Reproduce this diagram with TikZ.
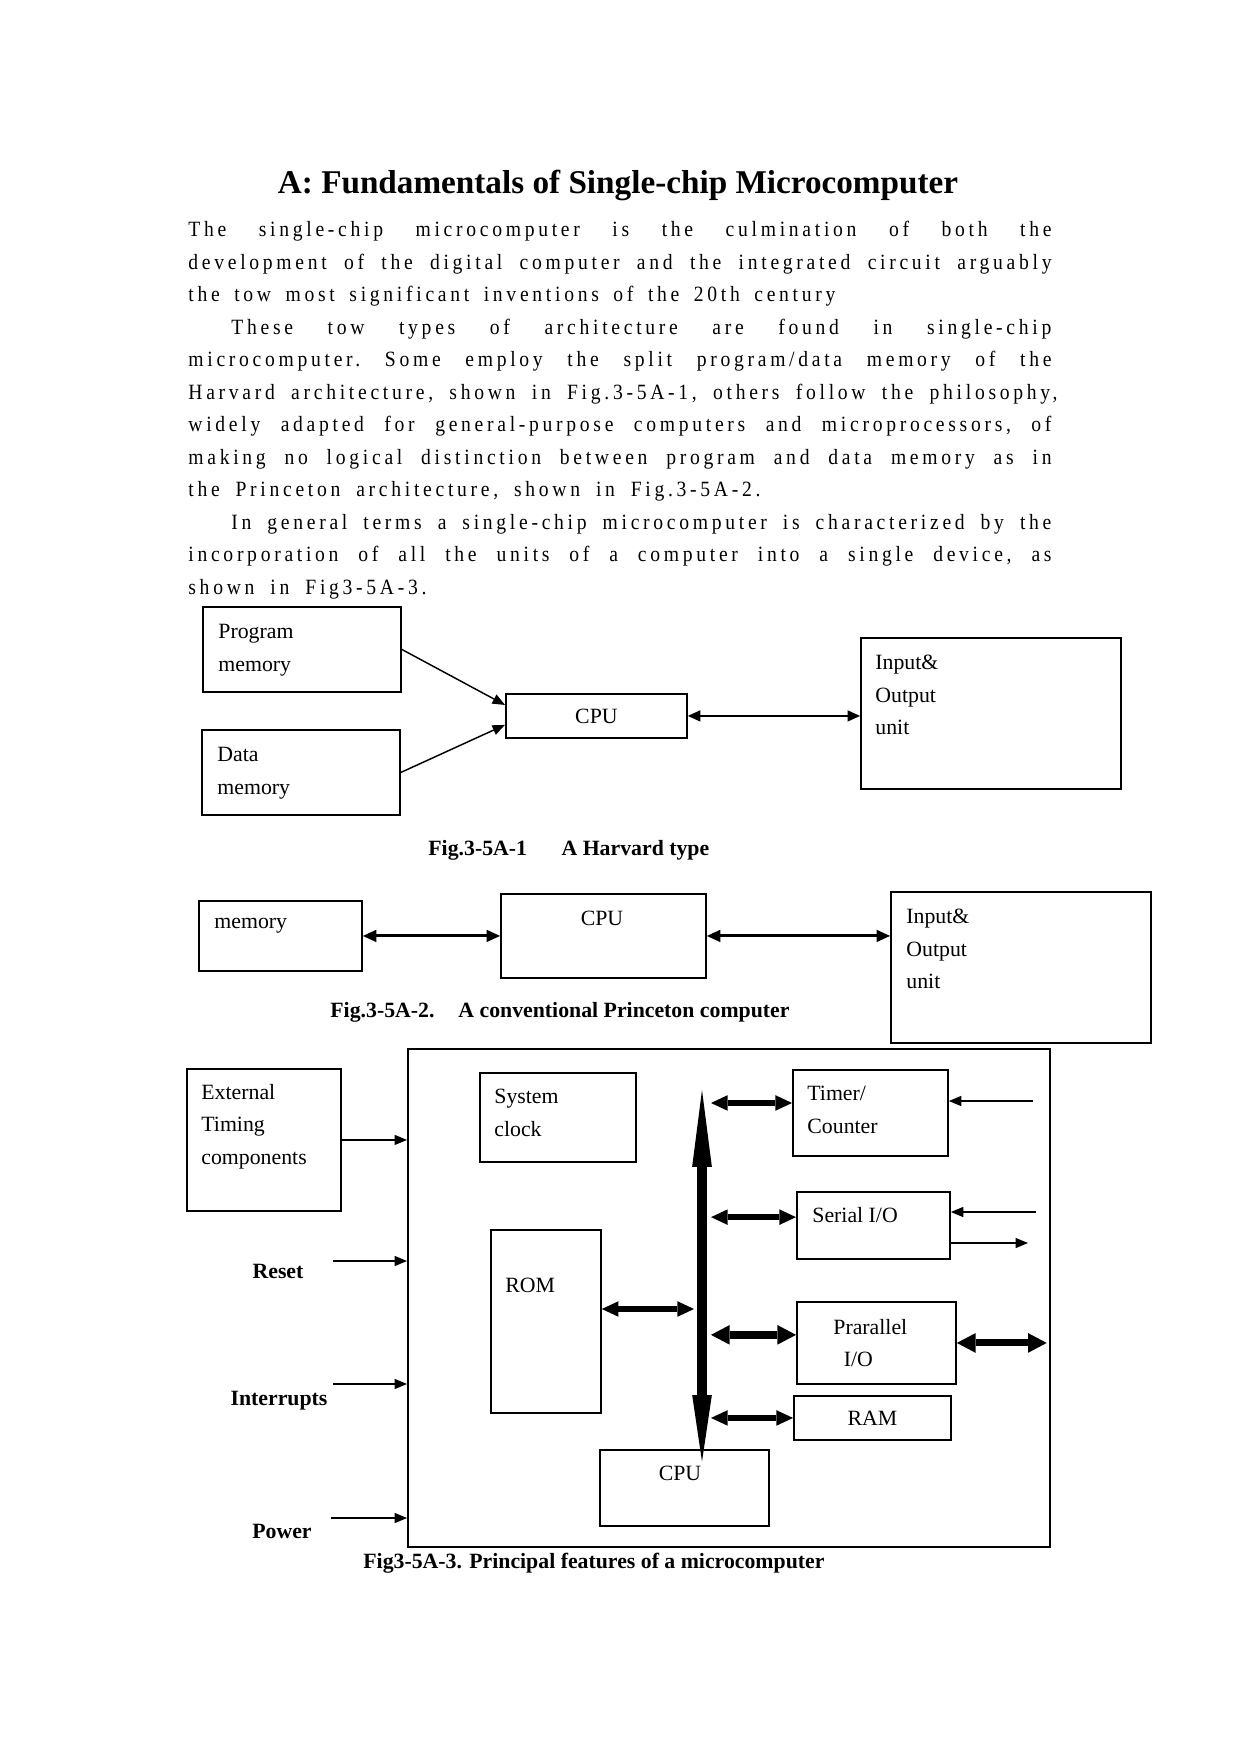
\documentclass[tikz,border=0pt]{standalone}
\usepackage{fontspec}
\setmainfont{Liberation Serif}
\newfontfamily\bodyfont{Liberation Serif}[LetterSpace=17, FakeStretch=0.9]
\usetikzlibrary{arrows.meta, calc, positioning}
\newcommand{\pxl}{0.48177pt}

\tikzset{
  blk/.style={draw, line width=0.9pt, anchor=north west, inner sep=0pt,
    font=\fontsize{10.5}{15.6}\selectfont},
  lbl/.style={anchor=north west, inner sep=0pt, align=left,
    font=\fontsize{10.5}{15.6}\selectfont},
  body/.style={anchor=base west, inner sep=0pt,
    font=\bodyfont\fontsize{10.5}{15.6}\selectfont\frenchspacing},
  figcap/.style={anchor=west, inner sep=0pt, font=\fontsize{10.5}{13}\selectfont\bfseries},
  arr/.style={line width=0.7pt, -{Triangle[length=6pt,width=5pt,line width=0pt]}},
  twoway/.style={line width=0.8pt,
    {Triangle[length=6pt,width=5.5pt,line width=0pt]}-{Triangle[length=6pt,width=5.5pt,line width=0pt]}},
  twowayb/.style={line width=1.4pt,
    {Triangle[length=6.5pt,width=6pt,line width=0pt]}-{Triangle[length=6.5pt,width=6pt,line width=0pt]}},
  fat/.style={line width=3pt,
    {Triangle[length=8pt,width=7.5pt,line width=0pt]}-{Triangle[length=8pt,width=7.5pt,line width=0pt]}},
  fatter/.style={line width=4pt,
    {Triangle[length=9pt,width=9.5pt,line width=0pt]}-{Triangle[length=9pt,width=9.5pt,line width=0pt]}},
  bus/.style={line width=4.8pt,
    {Triangle[length=37pt,width=9.5pt,line width=0pt]}-{Triangle[length=32pt,width=9.5pt,line width=0pt]}}
}

\begin{document}
\begin{tikzpicture}[x=0.48177pt, y=-0.48177pt]
  \useasboundingbox (0,0) rectangle (1241,1754);
  % heading and text
  \node[anchor=base, inner sep=0pt, font=\fontsize{16}{19}\selectfont\bfseries] (title) at (618,193)
    {A: Fundamentals of Single-chip Microcomputer};
  \node[body] (l1) at (188,236.5) {\makebox[415.8pt][s]{The single-chip microcomputer is the culmination of both the}};
  \node[body] (l2) at (188,269) {\makebox[415.8pt][s]{development of the digital computer and the integrated circuit arguably}};
  \node[body] (l3) at (188,301.5) {\makebox[311.7pt][s]{the tow most significant inventions of the 20th century}};
  \node[body] (l4) at (231,334) {\makebox[395pt][s]{These tow types of architecture are found in single-chip}};
  \node[body] (l5) at (188,366.5) {\makebox[415.8pt][s]{microcomputer. Some employ the split program/data memory of the}};
  \node[body] (l6) at (188,399) {\makebox[418.7pt][s]{Harvard architecture, shown in Fig.3-5A-1, others follow the philosophy,}};
  \node[body] (l7) at (188,431.5) {\makebox[415.8pt][s]{widely adapted for general-purpose computers and microprocessors, of}};
  \node[body] (l8) at (188,464) {\makebox[415.8pt][s]{making no logical distinction between program and data memory as in}};
  \node[body] (l9) at (188,496.5) {\makebox[275.6pt][s]{the Princeton architecture, shown in Fig.3-5A-2.}};
  \node[body] (l10) at (231,529) {\makebox[395pt][s]{In general terms a single-chip microcomputer is characterized by the}};
  \node[body] (l11) at (188,561.5) {\makebox[415.8pt][s]{incorporation of all the units of a computer into a single device, as}};
  \node[body] (l12) at (188,594) {\makebox[114.7pt][s]{shown in Fig3-5A-3.}};

  % Harvard type
  \node[blk, minimum width=198*\pxl, minimum height=85*\pxl] (pm) at (202,606) {};
  \node[lbl] at (218,624) {Program\\memory};
  \node[blk, minimum width=198*\pxl, minimum height=85*\pxl] (dm) at (201,729) {};
  \node[lbl] at (217,747) {Data\\memory};
  \node[blk, minimum width=181*\pxl, minimum height=44*\pxl] (cpua) at (505,693) {CPU};
  \node[blk, minimum width=260*\pxl, minimum height=151*\pxl] (ioa) at (860,637) {};
  \node[lbl] at (875,655) {Input\&\\Output\\unit};
  \draw[arr] (pm.east) -- ([yshift=5.3pt]cpua.west);
  \draw[arr] (dm.east) -- ([yshift=-4.3pt]cpua.west);
  \draw[twoway] (cpua.east) -- (cpua.east -| ioa.west);
  \node[figcap] (capa) at (428,850) {Fig.3-5A-1\hspace{14pt} A Harvard type};

  % Princeton type
  \node[blk, minimum width=163*\pxl, minimum height=70*\pxl] (mem) at (198,900) {};
  \node[lbl] at (214,918) {memory};
  \node[blk, minimum width=205*\pxl, minimum height=84*\pxl] (cpub) at (500,893) {};
  \node[lbl, anchor=north] at (602,911) {CPU};
  \node[blk, minimum width=260*\pxl, minimum height=151*\pxl] (iob) at (890,891) {};
  \node[lbl] at (906,909) {Input\&\\Output\\unit};
  \draw[twowayb] (mem.east) -- (cpub.west);
  \draw[twowayb] (cpub.east) -- (cpub.east -| iob.west);
  \node[figcap] (capb) at (330,1012) {Fig.3-5A-2.\hspace{8pt} A conventional Princeton computer};

  % microcomputer
  \node[blk, minimum width=642*\pxl, minimum height=498*\pxl] (chip) at (407,1048) {};
  \node[blk, minimum width=154*\pxl, minimum height=142*\pxl] (ext) at (186,1068) {};
  \node[lbl] at (201,1084) {External\\Timing\\components};
  \node[blk, minimum width=156*\pxl, minimum height=89*\pxl] (clk) at (479,1072) {};
  \node[lbl] at (494,1089) {System\\clock};
  \node[blk, minimum width=110*\pxl, minimum height=183*\pxl] (rom) at (490,1229) {};
  \node[lbl] at (505,1278) {ROM};
  \node[blk, minimum width=169*\pxl, minimum height=76*\pxl] (cpuc) at (599,1449) {};
  \node[lbl, anchor=north] at (680,1466) {CPU};
  \node[blk, minimum width=155*\pxl, minimum height=86*\pxl] (tmr) at (792,1069) {};
  \node[lbl] at (807,1086) {Timer/\\Counter};
  \node[blk, minimum width=153*\pxl, minimum height=67*\pxl] (ser) at (796,1191) {};
  \node[lbl] at (812,1207) {Serial I/O};
  \node[blk, minimum width=159*\pxl, minimum height=82*\pxl] (par) at (796,1301) {};
  \node[lbl] at (833,1319) {Prarallel\\\hspace*{5pt}I/O};
  \node[blk, minimum width=157*\pxl, minimum height=44*\pxl] (ram) at (793,1395) {RAM};

  \node[figcap, anchor=center] (rstlbl) at (278,1271) {Reset};
  \node[figcap, anchor=center] (irqlbl) at (279,1401) {Interrupts};
  \node[figcap, anchor=center] (pwrlbl) at (282,1531) {Power};
  \coordinate (rst) at (333,1261);
  \coordinate (irq) at (333,1384);
  \coordinate (pwr) at (331,1518);
  \coordinate (bustop) at (702,1090);
  \coordinate (busl) at (694,0);
  \coordinate (busr) at (711,0);
  \coordinate (tmrin) at (1033,1101);
  \coordinate (serin) at (1036,1212);
  \coordinate (serout) at (1028,1243);

  % inputs
  \draw[arr] (ext.east) -- (ext.east -| chip.west);
  \draw[arr] (rst) -- (rst -| chip.west);
  \draw[arr] (irq) -- (irq -| chip.west);
  \draw[arr] (pwr) -- (pwr -| chip.west);
  % bus
  \draw[bus] (bustop) -- ([yshift=-6pt]cpuc.north -| bustop);
  \draw[fat] ([yshift=4.8pt]tmr.west -| busr) -- ([yshift=4.8pt]tmr.west);
  \draw[fat] ([yshift=4pt]ser.west -| busr) -- ([yshift=4pt]ser.west);
  \draw[fat] ([yshift=6pt]rom.east) -- ([yshift=6pt]rom.east -| busl);
  \draw[fatter] ([yshift=3.9pt]par.west -| busr) -- ([yshift=3.9pt]par.west);
  \draw[fat] (ram.west -| busr) -- (ram.west);
  \draw[fatter, line width=3.4pt, shorten >=2pt] (par.east) -- (par.east -| chip.east);
  % outside lines
  \draw[arr] (tmrin) -- (tmrin -| tmr.east);
  \draw[arr] (serin) -- (serin -| ser.east);
  \draw[arr] (serout -| ser.east) -- (serout);
  \node[figcap] (capc) at (363,1563) {Fig3-5A-3. Principal features of a microcomputer};
\end{tikzpicture}
\end{document}
